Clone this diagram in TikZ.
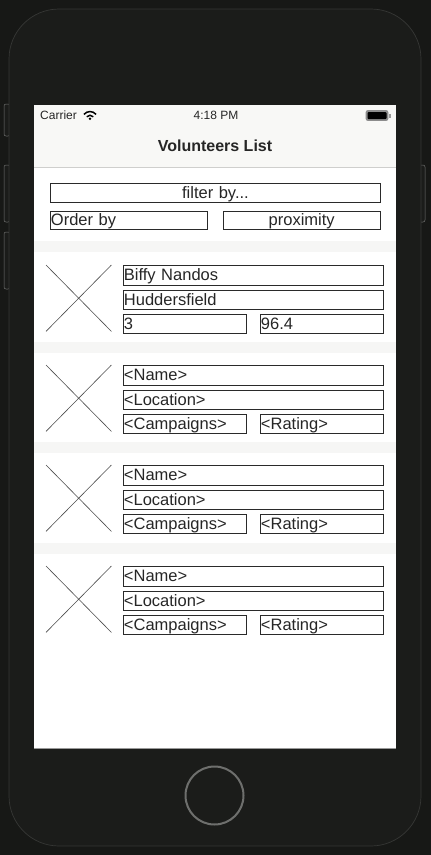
\documentclass[tikz,border=0pt]{standalone}
\usepackage{fontspec}
\setmainfont{Liberation Sans}
\definecolor{bodydark}{HTML}{1B1C1A}
\definecolor{outerdark}{HTML}{171816}
\definecolor{bodyedge}{HTML}{363735}
\definecolor{navgrey}{HTML}{F8F8F6}
\definecolor{navline}{HTML}{CFCFCD}
\definecolor{stripgrey}{HTML}{F6F6F5}
\definecolor{homering}{HTML}{6E6F6D}
\definecolor{boxline}{HTML}{2A2A2A}
\tikzset{every node/.style={inner sep=0pt,text=black!85}}
\tikzset{fieldbox/.style={draw=boxline,line width=0.9pt,anchor=north west,inner xsep=0.5pt,
    text height=13.5pt,text depth=2.5pt,font=\fontsize{16.5}{18}\selectfont,align=left,minimum height=18.5pt}}
\tikzset{wide/.style={fieldbox,text width=259pt}}
\tikzset{half/.style={fieldbox,text width=122pt}}
\tikzset{photo/.style={anchor=north west,minimum width=65pt,minimum height=66pt}}
\tikzset{crossline/.style={draw=black!70,line width=0.6pt}}
\tikzset{sidebutton/.style={fill=bodydark,draw=bodyedge!70,line width=0.5pt,rounded corners=2pt}}
\begin{document}
\begin{tikzpicture}[x=1pt,y=-1pt]
\useasboundingbox (0,0) rectangle (431,855);
\fill[outerdark] (0,0) rectangle (431,855);
% side buttons
\draw[sidebutton] (4,104) rectangle (10,136);
\draw[sidebutton] (4,165) rectangle (10,222);
\draw[sidebutton] (4,232) rectangle (10,289);
\draw[sidebutton] (419,165) rectangle (425,222);
% phone body
\draw[fill=bodydark,draw=bodyedge,line width=0.7pt,rounded corners=50pt] (9,9) rectangle (421,846);
\node[draw=homering,line width=2pt,circle,minimum size=58pt] (home) at (214.5,795.5) {};
% screen
\fill[white] (34,105) rectangle (396,748);
\fill[navgrey] (34,105) rectangle (396,167);
\draw[navline,line width=0.7pt] (34,167.5) -- (396,167.5);
\draw[black!40,line width=0.6pt] (34,748.2) -- (396,748.2);
\foreach \s in {241,342,442,543}
    \fill[stripgrey] (34,\s) rectangle (396,\s+11);
% status bar
\node[anchor=west,font=\fontsize{12}{12}\selectfont] (carrier) at (40,115.5) {Carrier};
\node[font=\fontsize{12}{12}\selectfont] (clock) at (216,115.5) {4:18 PM};
\fill[black] (90,118.7) circle (1.3pt);
\foreach \r in {4.5,8.5}
    \draw[black,line width=1.5pt] (90-0.72*\r,119.5-0.6*\r) .. controls (90-0.3*\r,119.5-1.05*\r) and (90+0.3*\r,119.5-1.05*\r) .. (90+0.72*\r,119.5-0.6*\r);
\draw[black!45,line width=0.8pt,rounded corners=2pt,fill=black!45] (366,110.5) rectangle (388,120.5);
\fill[black,rounded corners=1pt] (367.5,112) rectangle (386.5,119);
\fill[black!40] (389,113.5) rectangle (390.5,117.5);
\node[font=\bfseries\fontsize{16}{18}\selectfont] (title) at (215,146) {Volunteers List};
% filter controls
\node[fieldbox,text width=329pt,align=center] (filter) at (50,183) {filter by...};
\node[fieldbox,text width=155.5pt] (order) at (50,210.5) {Order by};
\node[fieldbox,text width=155.5pt,align=center] (proximity) at (223,210.5) {proximity};
% volunteers
\foreach \n/\y/\who/\where/\count/\score in {
    1/265/Biffy Nandos/Huddersfield/3/96.4,
    2/365/<Name>/<Location>/<Campaigns>/<Rating>,
    3/465/<Name>/<Location>/<Campaigns>/<Rating>,
    4/566/<Name>/<Location>/<Campaigns>/<Rating>}
{
    \node[photo] (photo\n) at (46,\y) {};
    \draw[crossline] (photo\n.north west) -- (photo\n.south east);
    \draw[crossline] (photo\n.south west) -- (photo\n.north east);
    \node[wide,minimum height=20pt] (name\n) at (123,\y) {\who};
    \node[wide] (place\n) at (123,\y+25) {\where};
    \node[half] (count\n) at (123,\y+49) {\count};
    \node[half] (score\n) at (260,\y+49) {\score};
}
\end{tikzpicture}
\end{document}
